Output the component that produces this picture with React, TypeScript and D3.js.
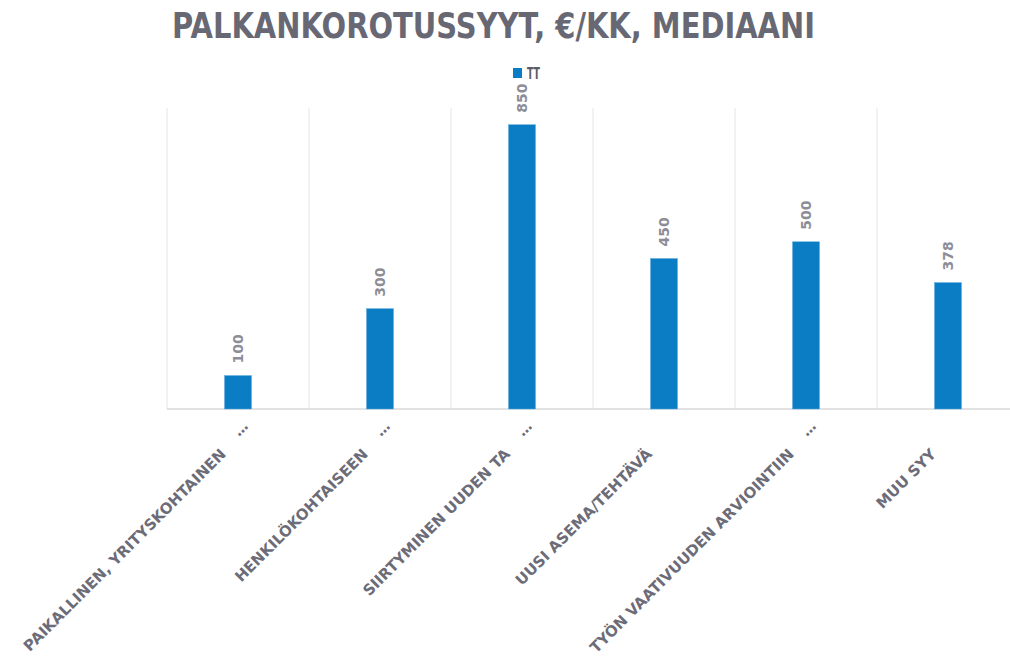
import React from "react";
import * as d3 from "d3";

const categories = [
  "PAIKALLINEN, YRITYSKOHTAINEN",
  "HENKILÖKOHTAISEEN",
  "SIIRTYMINEN UUDEN TA",
  "UUSI ASEMA/TEHTÄVÄ",
  "TYÖN VAATIVUUDEN ARVIOINTIIN",
  "MUU SYY",
];
const truncated = [true, true, true, false, true, false];
const values = [100, 300, 850, 450, 500, 378];
const seriesName = "TT";
const title = "PALKANKOROTUSSYYT, €/KK, MEDIAANI";

const W = 1010;
const H = 664;
const font = "'DejaVu Sans', sans-serif";

const App = () => {
  const x = d3.scaleBand<string>().domain(categories).range([167, 1019]);
  const y = d3.scaleLinear().domain([0, 900]).range([409, 108]);
  const bw = x.bandwidth() * 0.19;
  const bounds = [...categories.map(c => x(c) as number), x.range()[1]];

  return (
    <svg width={W} height={H} style={{ position: "absolute", left: 0, top: 0, background: "#fff" }} fontFamily={font}>
      <text x={172} y={38} fontSize={35} fontWeight="bold" fill="#686874" textLength={643} lengthAdjust="spacingAndGlyphs">
        {title}
      </text>

      {/* legend */}
      <rect x={513} y={68} width={9} height={10} fill="#0a7dc5" />
      <text x={527} y={79} fontSize={15} fontWeight="bold" fill="#5c5c68" textLength={13} lengthAdjust="spacingAndGlyphs">{seriesName}</text>

      {/* vertical gridlines */}
      {bounds.map((b, i) => (
        <line key={i} x1={b} x2={b} y1={y(900)} y2={y(0)} stroke="#e4e4e4" strokeWidth={1} />
      ))}
      <line x1={x.range()[0]} x2={x.range()[1]} y1={y(0)} y2={y(0)} stroke="#d9d9d9" strokeWidth={1.5} />

      {values.map((v, i) => {
        const c = (x(categories[i]) as number) + x.bandwidth() / 2;
        return (
          <g key={categories[i]}>
            <rect x={c - bw / 2} y={y(v)} width={bw} height={y(0) - y(v)} fill="#0a7dc5" stroke="#5aa9dc" strokeWidth={0.5} />
            <text transform={`translate(${c + 5},${y(v) - 12}) rotate(-90)`} fontSize={14} fontWeight="bold" fill="#8d8d98">
              {v}
            </text>
            <text transform={`translate(${c - 11},${455}) rotate(-45)`} textAnchor="end" fontSize={15} fontWeight="bold" fill="#6c6c78">
              {categories[i]}
            </text>
            {truncated[i] && (
              <text transform={`translate(${c + 11},${427}) rotate(-45)`} textAnchor="end" fontSize={14} fontWeight="bold" fill="#6c6c78">
                …
              </text>
            )}
          </g>
        );
      })}
    </svg>
  );
};

export default App;
